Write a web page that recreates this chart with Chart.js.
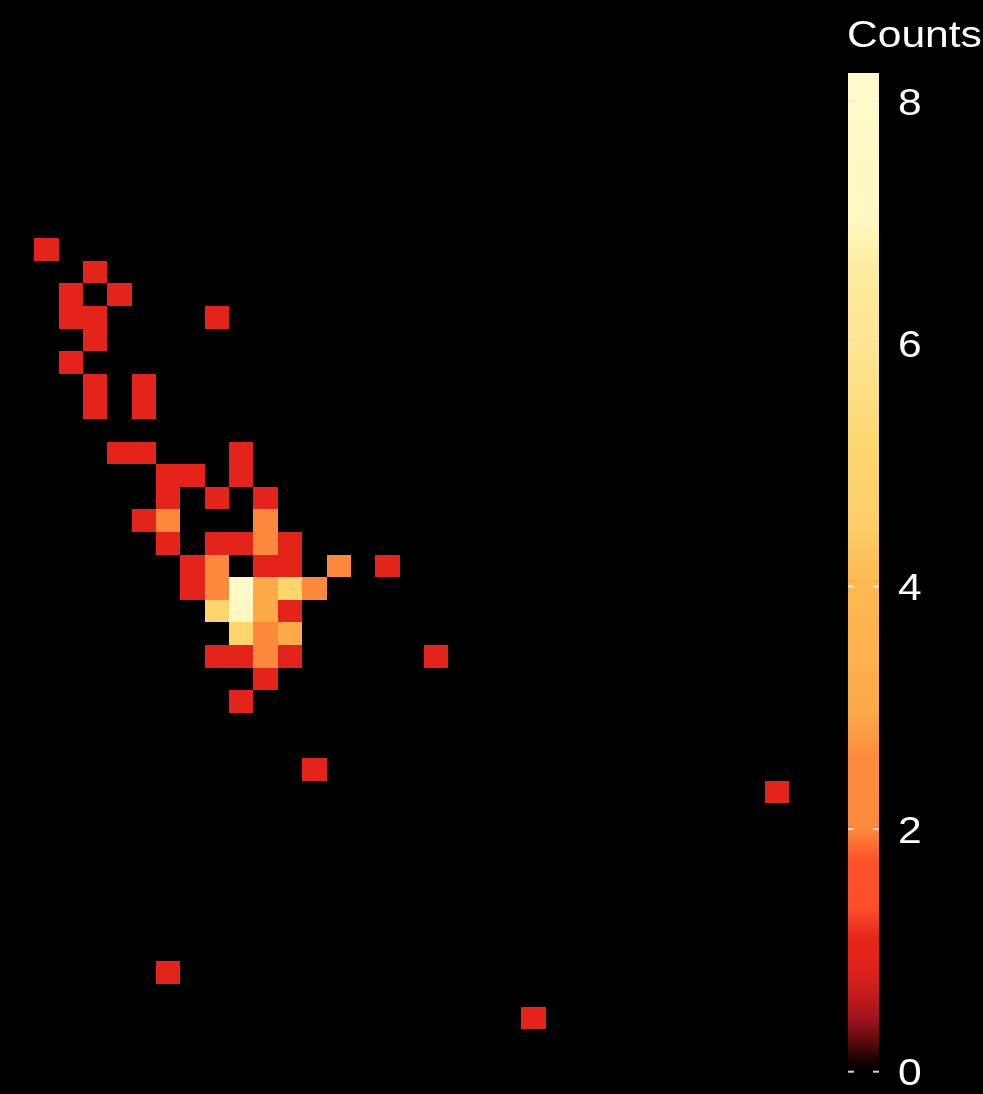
<!DOCTYPE html>
<html>
<head>
<meta charset="utf-8">
<script src="https://cdn.jsdelivr.net/npm/chart.js@4/dist/chart.umd.min.js"></script>
<style>
  html, body { margin: 0; padding: 0; background: #000; }
  #wrap { width: 983px; height: 1094px; position: relative; }
</style>
</head>
<body>
<div id="wrap"><canvas id="binChart"></canvas></div>
<script>

// bin column, bin row (row 0 at top) and count, one row of the picture per line
var xBins = [
	0,
	2,
	1, 3,
	1, 2, 7,
	2,
	1,
	2, 4,
	2, 4,
	3, 4, 8,
	5, 6, 8,
	5, 7, 9,
	4, 5, 9,
	5, 7, 8, 9, 10,
	6, 7, 9, 10, 12, 14,
	6, 7, 8, 9, 10, 11,
	7, 8, 9, 10,
	8, 9, 10,
	7, 8, 9, 10, 16,
	9,
	8,
	11,
	30,
	5,
	20
];
var yBins = [
	0,
	1,
	2, 2,
	3, 3, 3,
	4,
	5,
	6, 6,
	7, 7,
	9, 9, 9,
	10, 10, 10,
	11, 11, 11,
	12, 12, 12,
	13, 13, 13, 13, 13,
	14, 14, 14, 14, 14, 14,
	15, 15, 15, 15, 15, 15,
	16, 16, 16, 16,
	17, 17, 17,
	18, 18, 18, 18, 18,
	19,
	20,
	23,
	24,
	32,
	34
];
var counts = [
	1,
	1,
	1, 1,
	1, 1, 1,
	1,
	1,
	1, 1,
	1, 1,
	1, 1, 1,
	1, 1, 1,
	1, 1, 1,
	1, 2, 2,
	1, 1, 1, 2, 1,
	1, 2, 1, 1, 2, 1,
	1, 2, 8, 3, 5, 2,
	5, 7, 3, 1,
	5, 2, 3,
	1, 1, 2, 1, 1,
	1,
	1,
	1,
	1,
	1,
	1
];

var cbTicks = [0, 2, 4, 6, 8];
var cbTitle = 'Counts';
var cbTop = 8.23;

var stopVals = [0, 0.08, 0.25, 0.45, 0.7, 0.9, 1.1, 1.35, 1.75, 2.0, 2.6, 3.0, 4.0, 4.5, 5.0, 6.0, 6.6, 7.0, 8.0, 8.3];
var stopCols = ['#000000', '#140000', '#5a0a0e', '#a3141e', '#cd1e1e', '#e2221a', '#e5261b', '#fc4e2a', '#fc532b',
	'#fd8a3c', '#fd8d3c', '#fdab48', '#feb850', '#fdce68', '#fcd56c', '#fee592', '#ffeda0', '#fff7c0', '#fffaca', '#fffcce'];

function hexToRgb(h){
	return [parseInt(h.substr(1, 2), 16), parseInt(h.substr(3, 2), 16), parseInt(h.substr(5, 2), 16)];
}

function countColour(v){
	if(v <= stopVals[0]) return stopCols[0];
	for(var i = 1; i < stopVals.length; i++){
		if(v <= stopVals[i]){
			var t = (v - stopVals[i-1]) / (stopVals[i] - stopVals[i-1]);
			var a = hexToRgb(stopCols[i-1]), b = hexToRgb(stopCols[i]);
			var c = a.map(function(ch, k){ return Math.round(ch + (b[k] - ch) * t); });
			return 'rgb(' + c.join(',') + ')';
		}
	}
	return stopCols[stopCols.length - 1];
}

var points = xBins.map(function(x, i){
	return { x: x, y: yBins[i], v: counts[i] };
});

const binTiles = {
	id: 'binTiles',
	afterDatasetsDraw(chart){
		const ctx = chart.ctx;
		const xs = chart.scales.x, ys = chart.scales.y;
		ctx.save();
		chart.data.datasets[0].data.forEach(function(p){
			var l = Math.round(xs.getPixelForValue(p.x - 0.5)), r = Math.round(xs.getPixelForValue(p.x + 0.5));
			var t = Math.round(ys.getPixelForValue(p.y - 0.5)), b = Math.round(ys.getPixelForValue(p.y + 0.5));
			ctx.fillStyle = countColour(p.v);
			ctx.fillRect(Math.min(l, r), Math.min(t, b), Math.abs(r - l), Math.abs(b - t));
		});
		ctx.restore();
	}
};

const colourBar = {
	id: 'colourBar',
	afterDraw(chart){
		const ctx = chart.ctx;
		const cb = chart.scales.cb;
		const left = 848, width = 31;
		ctx.save();
		var top = Math.round(cb.getPixelForValue(cbTop)), bottom = Math.round(cb.getPixelForValue(0));
		for(var y = top; y < bottom; y++){
			ctx.fillStyle = countColour(cb.getValueForPixel(y + 0.5));
			ctx.fillRect(left, y, width, 1);
		}

		ctx.fillStyle = 'rgba(235,235,235,0.9)';
		cbTicks.forEach(function(t){
			var y = cb.getPixelForValue(t);
			ctx.fillRect(left, y - 1, 6, 2);
			ctx.fillRect(left + width - 6, y - 1, 6, 2);
		});

		ctx.fillStyle = '#ffffff';
		ctx.font = '37px "Liberation Sans", Arial, sans-serif';
		ctx.textBaseline = 'alphabetic';
		cbTicks.forEach(function(t){
			var y = cb.getPixelForValue(t);
			ctx.save();
			ctx.translate(898, y + 13.5);
			ctx.scale(1.15, 1);
			ctx.fillText(String(t), 0, 0);
			ctx.restore();
		});

		ctx.save();
		ctx.translate(847, 46.5);
		ctx.scale(1.15, 1);
		ctx.fillText(cbTitle, 0, 0);
		ctx.restore();
		ctx.restore();
	}
};

const chart = new Chart(document.getElementById('binChart').getContext('2d'), {
	type: 'scatter',
	data: {
		datasets: [{
			label: cbTitle,
			data: points,
			pointRadius: 0,
			pointHoverRadius: 0
		}]
	},
	options: {
		responsive: true,
		maintainAspectRatio: false,
		animation: false,
		events: [],
		layout: { padding: 0 },
		plugins: {
			legend: { display: false },
			tooltip: { enabled: false }
		},
		scales: {
			x: { type: 'linear', display: false, min: -1.909, max: 38.46 },
			y: { type: 'linear', display: false, reverse: true, min: -11.044, max: 37.363 },
			cb: { type: 'linear', axis: 'y', position: 'right', display: false, min: -0.1838, max: 8.835 }
		}
	},
	plugins: [binTiles, colourBar]
});

</script>
</body>
</html>
